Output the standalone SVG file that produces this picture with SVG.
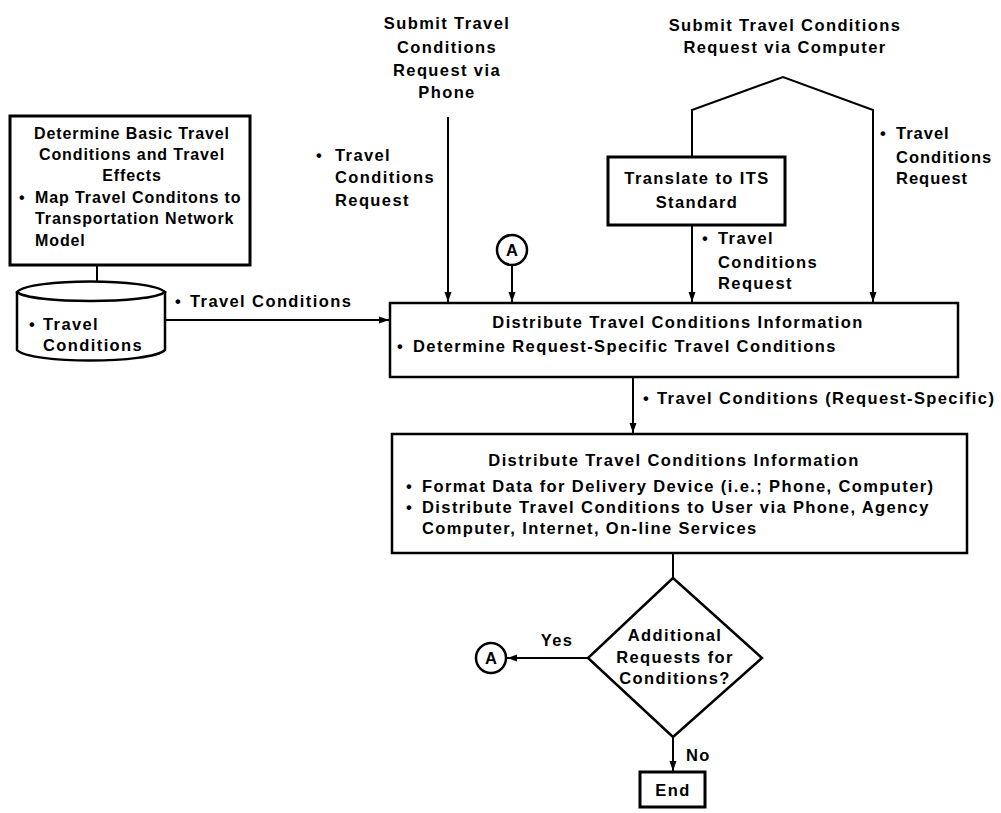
<svg xmlns="http://www.w3.org/2000/svg" width="1001" height="813" viewBox="0 0 1001 813">
<style>
text{font-family:"Liberation Sans",Arial,sans-serif;font-weight:bold;font-size:16.5px;letter-spacing:1.4px;fill:#000}
.c{text-anchor:middle}
.s{font-size:16px;letter-spacing:0.9px}
.n{letter-spacing:0}
.box{fill:#fff;stroke:#000;stroke-width:2.5}
.thick{stroke-width:3}
.ln{fill:none;stroke:#000;stroke-width:2}
</style>
<defs>
<marker id="ah" markerUnits="userSpaceOnUse" markerWidth="11" markerHeight="8" refX="10" refY="4" orient="auto">
<path d="M0,0.5 L10,4 L0,7.5 z" fill="#000"/>
</marker>
</defs>
<g id="connectors">
<line class="ln" x1="448" y1="117" x2="448" y2="302" marker-end="url(#ah)"/>
<line class="ln" x1="512" y1="265" x2="512" y2="302" marker-end="url(#ah)"/>
<polyline class="ln" points="692,157 692,110 783,77 873,110 873,302" marker-end="url(#ah)"/>
<line class="ln" x1="692" y1="225" x2="692" y2="302" marker-end="url(#ah)"/>
<line class="ln" x1="97" y1="265" x2="97" y2="283"/>
<line class="ln" x1="165" y1="320" x2="389" y2="320" marker-end="url(#ah)"/>
<line class="ln" x1="633" y1="377" x2="633" y2="433" marker-end="url(#ah)"/>
<line class="ln" x1="673" y1="553" x2="673" y2="578"/>
<line class="ln" x1="588" y1="658" x2="507" y2="658" marker-end="url(#ah)"/>
<line class="ln" x1="673" y1="737" x2="673" y2="771" marker-end="url(#ah)"/>
<text x="175" y="307">•</text><text x="190" y="307">Travel Conditions</text>
<text x="316" y="161">•</text><text x="335" y="161">Travel</text><text x="335" y="183">Conditions</text><text x="335" y="206">Request</text>
<text x="702" y="244">•</text><text x="718" y="244">Travel</text><text x="718" y="268">Conditions</text><text x="718" y="289">Request</text>
<text x="880" y="139">•</text><text x="896" y="139" style="letter-spacing:1px">Travel</text><text x="896" y="163" style="letter-spacing:1px">Conditions</text><text x="896" y="184" style="letter-spacing:1px">Request</text>
<text x="643" y="404">•</text><text x="657" y="404">Travel Conditions (Request-Specific)</text>
<text class="c" x="557" y="646">Yes</text>
<text x="686" y="761">No</text>
</g>
<g id="phone-source">
<text class="c" x="447" y="29">Submit Travel</text>
<text class="c" x="447" y="53">Conditions</text>
<text class="c" x="447" y="76">Request via</text>
<text class="c" x="447" y="98">Phone</text>
</g>
<g id="computer-source">
<text class="c" x="785" y="31">Submit Travel Conditions</text>
<text class="c" x="785" y="53">Request via Computer</text>
</g>
<g id="determine-basic">
<rect class="box thick" x="10" y="116" width="240" height="149"/>
<text class="c s" x="132" y="139">Determine Basic Travel</text>
<text class="c s" x="132" y="160">Conditions and Travel</text>
<text class="c s" x="132" y="181">Effects</text>
<text class="s" x="19" y="203">•</text><text class="s" x="35" y="203">Map Travel Conditons to</text>
<text class="s" x="35" y="224">Transportation Network</text>
<text class="s" x="35" y="246">Model</text>
</g>
<g id="travel-conditions-store">
<path class="box" d="M17,292 L17,350 C30,364 150,364 165,350 L165,292"/>
<path class="box" d="M17,292 C30,278 150,278 165,292 C150,304 30,304 17,292 z"/>
<text x="29" y="330">•</text><text x="43" y="330">Travel</text>
<text x="43" y="351">Conditions</text>
</g>
<g id="translate">
<rect class="box thick" x="608" y="157" width="177" height="68"/>
<text class="c" x="697" y="184">Translate to ITS</text>
<text class="c" x="697" y="208">Standard</text>
</g>
<g id="connector-a-top">
<circle class="box" cx="512" cy="250" r="15" stroke-width="2"/>
<text class="c n" x="512" y="256">A</text>
</g>
<g id="distribute-1">
<rect class="box" x="390" y="303" width="568" height="74"/>
<text class="c" x="678" y="328">Distribute Travel Conditions Information</text>
<text x="397" y="352">•</text><text x="413" y="352">Determine Request-Specific Travel Conditions</text>
</g>
<g id="distribute-2">
<rect class="box" x="392" y="434" width="575" height="119"/>
<text class="c" x="674" y="466">Distribute Travel Conditions Information</text>
<text x="406" y="492">•</text><text x="422" y="492">Format Data for Delivery Device (i.e.; Phone, Computer)</text>
<text x="406" y="513">•</text><text x="422" y="513">Distribute Travel Conditions to User via Phone, Agency</text>
<text x="422" y="534">Computer, Internet, On-line Services</text>
</g>
<g id="decision">
<polygon class="box" points="673,578 762,658 673,737 588,658"/>
<text class="c" x="675" y="641">Additional</text>
<text class="c" x="675" y="663">Requests for</text>
<text class="c" x="675" y="684">Conditions?</text>
</g>
<g id="connector-a-bottom">
<circle class="box" cx="491" cy="658" r="15" stroke-width="2"/>
<text class="c n" x="491" y="664">A</text>
</g>
<g id="end">
<rect class="box thick" x="640" y="772" width="65" height="35"/>
<text class="c" x="673" y="796">End</text>
</g>
</svg>
